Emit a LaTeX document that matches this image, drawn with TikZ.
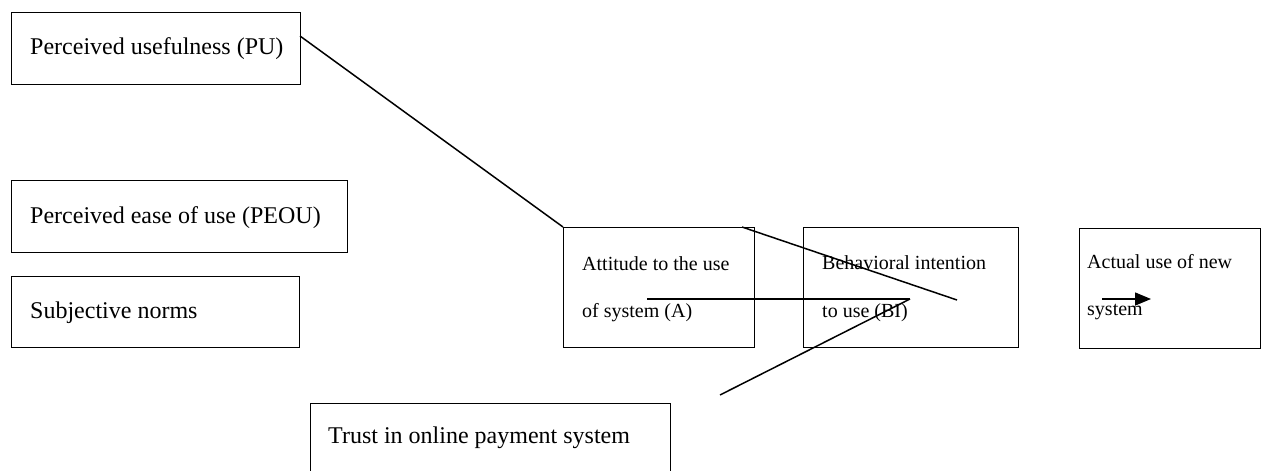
\documentclass[tikz,border=0pt]{standalone}
\usepackage{fontspec}
\setmainfont{Liberation Serif}
\usetikzlibrary{arrows.meta}
\begin{document}
\begin{tikzpicture}[x=1pt,y=-1pt,
  box/.style={draw,line width=1pt,inner sep=0pt,anchor=north west},
  big/.style={anchor=base west,inner sep=0pt,font=\fontsize{24}{28}\selectfont},
  small/.style={anchor=base west,inner sep=0pt,font=\fontsize{20}{24}\selectfont},
  conn/.style={line width=1.5pt}]
\useasboundingbox (0,0) rectangle (1264,471);
% boxes
\node[box,minimum width=289pt,minimum height=72pt] (pu) at (10.5,12) {};
\node[box,minimum width=336pt,minimum height=72pt] (peou) at (10.5,179.5) {};
\node[box,minimum width=288pt,minimum height=71pt] (sn) at (10.5,276) {};
\node[box,minimum width=191pt,minimum height=120pt] (att) at (563,227) {};
\node[box,minimum width=215pt,minimum height=120pt] (bi) at (803,227) {};
\node[box,minimum width=181pt,minimum height=120pt] (use) at (1078.5,228) {};
\node[box,minimum width=360pt,minimum height=80pt] (trust) at (309.5,403) {};
% texts
\node[big] (tpu) at (30,54) {Perceived usefulness (PU)};
\node[big] (tpeou) at (30,223) {Perceived ease of use (PEOU)};
\node[big] (tsn) at (30,318) {Subjective norms};
\node[big] (ttrust) at (328,443) {Trust in online payment system};
\node[small] (tatt1) at (582,270) {Attitude to the use};
\node[small] (tatt2) at (582,317) {of system (A)};
\node[small] (tbi1) at (822,269) {Behavioral intention};
\node[small] (tbi2) at (822,317) {to use (BI)};
\node[small] (tuse1) at (1087,268) {Actual use of new};
\node[small] (tuse2) at (1087,315) {system};
% connector ends
\coordinate (p1) at (300,36);
\coordinate (p2) at (563,227);
\coordinate (q1) at (742,227);
\coordinate (q2) at (957,300);
\coordinate (h1) at (647,299);
\coordinate (h2) at (910,299);
\coordinate (t1) at (720,395);
\coordinate (a1) at (1102,299);
\coordinate (a2) at (1151,299);
% connectors
\draw[conn] (p1) -- (p2);
\draw[conn] (q1) -- (q2);
\draw[conn] (h1) -- (h2);
\draw[conn] (t1) -- (h2);
\draw[conn,-{Triangle[length=16pt,width=13pt]}] (a1) -- (a2);
\end{tikzpicture}
\end{document}
